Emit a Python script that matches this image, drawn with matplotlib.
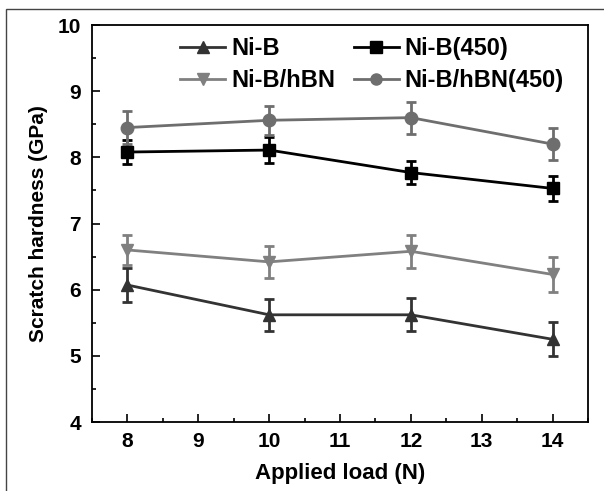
import matplotlib
matplotlib.use("Agg")
import matplotlib.pyplot as plt
from matplotlib.patches import Rectangle
from matplotlib.lines import Line2D
from matplotlib.ticker import MultipleLocator

plt.rcParams['font.family'] = ['Liberation Sans', 'DejaVu Sans']
plt.rcParams['font.weight'] = 'bold'

loads = [8, 10, 12, 14]
nib = [6.07, 5.62, 5.62, 5.25]
nib_err = [0.25, 0.24, 0.25, 0.26]
nib450 = [8.08, 8.11, 7.77, 7.53]
nib450_err = [0.18, 0.19, 0.18, 0.19]
nibhbn = [6.60, 6.42, 6.58, 6.23]
nibhbn_err = [0.22, 0.24, 0.25, 0.26]
nibhbn450 = [8.45, 8.56, 8.60, 8.20]
nibhbn450_err = [0.25, 0.22, 0.24, 0.24]

fig = plt.figure(figsize=(6.04, 4.91), dpi=100)
fig.patches.append(Rectangle((5.5/604, -0.1), 1.2, (491-8.5)/491 + 0.1, transform=fig.transFigure,
                             fill=False, edgecolor='#444444', linewidth=1.0))
ax = fig.add_axes([92/604, 1-422/491, (588-92)/604, (422-25)/491])

series = [
    ("Ni-B", nib, nib_err, '^', '#333333'),
    ("Ni-B/hBN", nibhbn, nibhbn_err, 'v', '#808080'),
    ("Ni-B(450)", nib450, nib450_err, 's', '#000000'),
    ("Ni-B/hBN(450)", nibhbn450, nibhbn450_err, 'o', '#6e6e6e'),
]
handles = []
for name, vals, err, mk, col in series:
    ax.errorbar(loads, vals, yerr=err, color=col, marker=mk, markersize=9,
                linewidth=2, elinewidth=2, capsize=3.5, capthick=2)
    handles.append(Line2D([], [], color=col, marker=mk, markersize=8, linewidth=2))

ax.set_xlim(7.5, 14.5)
ax.set_ylim(4, 10)
ax.xaxis.set_major_locator(MultipleLocator(1))
ax.xaxis.set_minor_locator(MultipleLocator(0.5))
ax.yaxis.set_major_locator(MultipleLocator(1))
ax.yaxis.set_minor_locator(MultipleLocator(0.5))
ax.tick_params(which='both', direction='in', top=False, right=False, labelsize=15, width=1.2)
ax.tick_params(which='major', length=6, pad=8)
ax.tick_params(axis='x', which='major', pad=7)
ax.tick_params(which='minor', length=3)
for s in ax.spines.values():
    s.set_linewidth(1.3)
ax.set_xlabel('Applied load (N)', fontsize=16, fontweight='bold', labelpad=9)
ax.set_ylabel('Scratch hardness (GPa)', fontsize=15, fontweight='bold', labelpad=7)

leg = ax.legend(handles=handles, labels=[s[0] for s in series], ncol=2,
                frameon=False, fontsize=17, loc='upper left', bbox_to_anchor=(0.178, 0.97),
                borderaxespad=0, borderpad=0,
                handlelength=1.9, handletextpad=0.25, columnspacing=0.8, labelspacing=0.4)
for t in leg.get_texts():
    t.set_fontweight('bold')

fig.savefig('out.png', dpi=100)
